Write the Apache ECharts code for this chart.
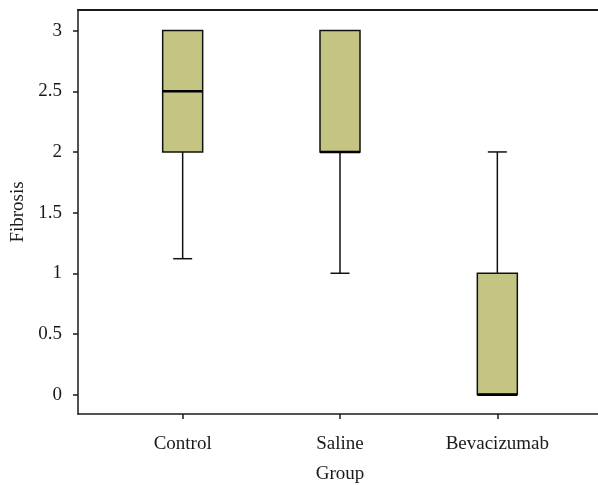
<!DOCTYPE html>
<html>
<head>
<meta charset="utf-8">
<script src="https://cdn.jsdelivr.net/npm/echarts@6/dist/echarts.min.js"></script>
<style>
html,body{margin:0;padding:0;background:#fff;}
#c{width:598px;height:485px;}
</style>
</head>
<body>
<div id="c"></div>
<script>
var categories = ['Control', 'Saline', 'Bevacizumab'];
var whiskerLow = [1.12, 1.0, 0.0];
var q1 = [2.0, 2.0, 0.0];
var medians = [2.5, 2.0, 0.0];
var q3 = [3.0, 3.0, 1.0];
var whiskerHigh = [3.0, 3.0, 2.0];
var yTicks = [0, 0.5, 1, 1.5, 2, 2.5, 3];

var FONT = 'Liberation Serif';
var FS = 19;
var data = categories.map(function (c, i) {
  return [i, whiskerLow[i], q1[i], medians[i], q3[i], whiskerHigh[i]];
});

var chart = echarts.init(document.getElementById('c'), null, {renderer: 'canvas'});
var yMin = -0.16, yMax = 3.17;
var lineCol = '#1a1a1a';

chart.setOption({
  animation: false,
  backgroundColor: '#fff',
  grid: [
    {left: 78, right: 0, top: 10, bottom: 71, containLabel: false, outerBoundsMode: 'none'},
    {left: 104, width: 472, top: 10, bottom: 71, containLabel: false, outerBoundsMode: 'none'}
  ],
  xAxis: [
    {type: 'value', gridIndex: 0, min: 0, max: 1, position: 'bottom',
      axisLine: {show: true, onZero: false, lineStyle: {color: lineCol, width: 1.5}},
      axisTick: {show: false}, axisLabel: {show: false}, splitLine: {show: false}},
    {type: 'value', gridIndex: 0, min: 0, max: 1, position: 'top',
      axisLine: {show: true, onZero: false, lineStyle: {color: lineCol, width: 2}},
      axisTick: {show: false}, axisLabel: {show: false}, splitLine: {show: false}},
    {
      type: 'category', gridIndex: 1, data: categories, boundaryGap: true, position: 'bottom',
      axisLine: {show: false, onZero: false},
      axisTick: {show: true, alignWithLabel: true, length: 5, lineStyle: {color: lineCol, width: 1.5}},
      axisLabel: {margin: 21, color: lineCol, fontFamily: FONT, fontSize: FS},
      name: 'Group', nameLocation: 'middle', nameGap: 51,
      nameTextStyle: {color: lineCol, fontFamily: FONT, fontSize: FS},
      splitLine: {show: false}
    }
  ],
  yAxis: [
    {
      type: 'value', gridIndex: 0, min: yMin, max: yMax,
      axisLine: {show: true, onZero: false, lineStyle: {color: lineCol, width: 1.5}},
      axisTick: {show: true, length: 5, customValues: yTicks, lineStyle: {color: lineCol, width: 1.5}},
      axisLabel: {customValues: yTicks, margin: 16, color: lineCol, fontFamily: FONT, fontSize: FS,
        formatter: function (v) { return String(v); }},
      splitLine: {show: false},
      name: 'Fibrosis', nameLocation: 'middle', nameRotate: 90, nameGap: 50,
      nameTextStyle: {color: lineCol, fontFamily: FONT, fontSize: FS}
    },
    {type: 'value', gridIndex: 1, min: yMin, max: yMax, show: false}
  ],
  series: [{
    type: 'custom',
    xAxisIndex: 2, yAxisIndex: 1,
    data: data,
    encode: {x: 0, y: [1, 2, 3, 4, 5]},
    renderItem: function (params, api) {
      var i = api.value(0);
      var pLo = api.coord([i, api.value(1)]);
      var pQ1 = api.coord([i, api.value(2)]);
      var pMed = api.coord([i, api.value(3)]);
      var pQ3 = api.coord([i, api.value(4)]);
      var pHi = api.coord([i, api.value(5)]);
      var cx = pQ1[0];
      var bw = 40, cw = 19;
      var stroke = '#111';
      var children = [];
      if (Math.abs(pLo[1] - pQ1[1]) > 0.5) {
        children.push({type: 'line', shape: {x1: cx, y1: pQ1[1], x2: cx, y2: pLo[1]}, style: {stroke: stroke, lineWidth: 1.5}});
        children.push({type: 'line', shape: {x1: cx - cw / 2, y1: pLo[1], x2: cx + cw / 2, y2: pLo[1]}, style: {stroke: stroke, lineWidth: 1.5}});
      }
      if (Math.abs(pHi[1] - pQ3[1]) > 0.5) {
        children.push({type: 'line', shape: {x1: cx, y1: pQ3[1], x2: cx, y2: pHi[1]}, style: {stroke: stroke, lineWidth: 1.5}});
        children.push({type: 'line', shape: {x1: cx - cw / 2, y1: pHi[1], x2: cx + cw / 2, y2: pHi[1]}, style: {stroke: stroke, lineWidth: 1.5}});
      }
      children.push({type: 'rect', shape: {x: cx - bw / 2, y: pQ3[1], width: bw, height: pQ1[1] - pQ3[1]},
        style: {fill: '#c5c583', stroke: stroke, lineWidth: 1.5}});
      children.push({type: 'line', shape: {x1: cx - bw / 2, y1: pMed[1], x2: cx + bw / 2, y2: pMed[1]},
        style: {stroke: '#000', lineWidth: 2.6}});
      return {type: 'group', children: children};
    }
  }]
});
</script>
</body>
</html>
